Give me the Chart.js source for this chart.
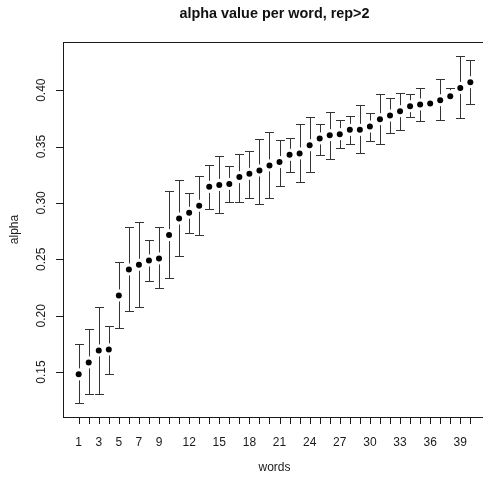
<!DOCTYPE html>
<html>
<head>
<meta charset="utf-8">
<script src="https://cdn.jsdelivr.net/npm/chart.js@4.4.1/dist/chart.umd.min.js"></script>
<style>
  html, body { margin: 0; padding: 0; overflow: hidden; background: #ffffff; }
  #wrap { position: relative; width: 500px; height: 484px; }
</style>
</head>
<body>
<div id="wrap"><canvas id="c"></canvas></div>
<script>
// Word index, mean alpha and confidence limits per word (rep > 2)
const words = [1, 2, 3, 4, 5, 6, 7, 8, 9, 10, 11, 12, 13, 14, 15, 16, 17, 18, 19, 20,
               21, 22, 23, 24, 25, 26, 27, 28, 29, 30, 31, 32, 33, 34, 35, 36, 37, 38, 39, 40];
const alpha = [0.148, 0.1586, 0.1692, 0.1701, 0.218, 0.241, 0.2452, 0.249, 0.2508, 0.2715,
               0.2862, 0.2913, 0.2975, 0.3143, 0.316, 0.3169, 0.3229, 0.3258, 0.3288, 0.3333,
               0.3362, 0.3427, 0.3439, 0.3512, 0.3572, 0.3601, 0.361, 0.3648, 0.3648, 0.3678,
               0.3743, 0.3775, 0.3814, 0.3858, 0.3873, 0.3882, 0.3911, 0.3947, 0.402, 0.4071];
const lower = [0.1225, 0.1302, 0.131, 0.1485, 0.1887, 0.204, 0.2079, 0.2307, 0.2242, 0.2336,
               0.2528, 0.273, 0.272, 0.2942, 0.2913, 0.301, 0.301, 0.304, 0.2995, 0.3046,
               0.3149, 0.3276, 0.3187, 0.3276, 0.3424, 0.3391, 0.3483, 0.3527, 0.3444, 0.3548,
               0.3522, 0.3622, 0.3645, 0.3763, 0.3725, 0.385, 0.3734, 0.391, 0.3754, 0.3873];
const upper = [0.175, 0.1878, 0.2076, 0.1911, 0.2478, 0.2788, 0.283, 0.267, 0.2788, 0.3107,
               0.3202, 0.309, 0.3238, 0.3335, 0.3418, 0.3326, 0.3433, 0.3462, 0.3563, 0.3628,
               0.3557, 0.3578, 0.3696, 0.3764, 0.3704, 0.3808, 0.3734, 0.3772, 0.3867, 0.3799,
               0.397, 0.3932, 0.3977, 0.3962, 0.402, 0.392, 0.4095, 0.4015, 0.4304, 0.4266];

// Axis annotation
const xTickLabels = [1, 3, 5, 7, 9, 12, 15, 18, 21, 24, 27, 30, 33, 36, 39];
const yTicks = [0.15, 0.20, 0.25, 0.30, 0.35, 0.40];
const titleText = 'alpha value per word, rep>2';
const xTitle = 'words';
const yTitle = 'alpha';

// Axis ranges padded by 4% on each side (R style)
const xMinData = Math.min(...words), xMaxData = Math.max(...words);
const yMinData = Math.min(...lower), yMaxData = Math.max(...upper);
const xPad = (xMaxData - xMinData) * 0.04;
const yPad = (yMaxData - yMinData) * 0.04;

const FONT = '"Liberation Sans", Arial, sans-serif';

const baseGraphics = {
  id: 'baseGraphics',
  afterDatasetsDraw(chart) {
    const ctx = chart.ctx;
    const area = chart.chartArea;
    const xs = chart.scales.x, ys = chart.scales.y;
    ctx.save();

    // Confidence-interval whiskers with a gap around each point
    const gap = 6, cap = 4.5;
    ctx.strokeStyle = '#333333';
    ctx.lineWidth = 1;
    words.forEach((w, i) => {
      const px = Math.round(xs.getPixelForValue(w)) + 0.5;
      const py = ys.getPixelForValue(alpha[i]);
      const pl = Math.round(ys.getPixelForValue(lower[i])) + 0.5;
      const pu = Math.round(ys.getPixelForValue(upper[i])) + 0.5;
      ctx.beginPath();
      if (pu < py - gap) {
        ctx.moveTo(px, py - gap); ctx.lineTo(px, pu);
        ctx.moveTo(px - cap, pu); ctx.lineTo(px + cap, pu);
      }
      if (pl > py + gap) {
        ctx.moveTo(px, py + gap); ctx.lineTo(px, pl);
        ctx.moveTo(px - cap, pl); ctx.lineTo(px + cap, pl);
      }
      ctx.stroke();
    });

    // Plot frame
    ctx.strokeStyle = '#1a1a1a';
    ctx.strokeRect(Math.round(area.left) + 0.5, Math.round(area.top) + 0.5,
                   Math.round(area.right - area.left), Math.round(area.bottom - area.top));

    ctx.fillStyle = '#1a1a1a';
    // x axis ticks and labels
    ctx.font = '12px ' + FONT;
    ctx.textAlign = 'center';
    ctx.textBaseline = 'middle';
    ctx.beginPath();
    words.forEach(w => {
      const px = Math.round(xs.getPixelForValue(w)) + 0.5;
      ctx.moveTo(px, area.bottom); ctx.lineTo(px, area.bottom + 7);
    });
    ctx.stroke();
    xTickLabels.forEach(w => {
      ctx.fillText(String(w), xs.getPixelForValue(w), area.bottom + 26);
    });

    // y axis ticks and rotated labels
    ctx.beginPath();
    yTicks.forEach(v => {
      const py = Math.round(ys.getPixelForValue(v)) + 0.5;
      ctx.moveTo(area.left, py); ctx.lineTo(area.left - 7, py);
    });
    ctx.stroke();
    yTicks.forEach(v => {
      ctx.save();
      ctx.translate(area.left - 21, ys.getPixelForValue(v));
      ctx.rotate(-Math.PI / 2);
      ctx.fillText(v.toFixed(2), 0, 0);
      ctx.restore();
    });

    // Axis titles
    const cx = (area.left + area.right) / 2;
    const cy = (area.top + area.bottom) / 2;
    ctx.fillText(xTitle, cx, area.bottom + 51);
    ctx.save();
    ctx.translate(area.left - 48, cy);
    ctx.rotate(-Math.PI / 2);
    ctx.fillText(yTitle, 0, 0);
    ctx.restore();

    // Main title
    ctx.font = 'bold 14.4px ' + FONT;
    ctx.fillStyle = '#111';
    ctx.fillText(titleText, cx, 14);

    ctx.restore();
  }
};

new Chart(document.getElementById('c'), {
  type: 'scatter',
  data: {
    datasets: [{
      label: yTitle,
      data: words.map((w, i) => ({ x: w, y: alpha[i] })),
      pointRadius: 3,
      pointHoverRadius: 3,
      pointBackgroundColor: '#000000',
      pointBorderWidth: 0
    }]
  },
  options: {
    responsive: true,
    maintainAspectRatio: false,
    animation: false,
    devicePixelRatio: 1,
    layout: { padding: { left: 63, top: 42, right: 14, bottom: 67 } },
    plugins: { legend: { display: false }, tooltip: { enabled: false } },
    scales: {
      x: { type: 'linear', display: false, min: xMinData - xPad, max: xMaxData + xPad },
      y: { type: 'linear', display: false, min: yMinData - yPad, max: yMaxData + yPad }
    }
  },
  plugins: [baseGraphics]
});
</script>
</body>
</html>
